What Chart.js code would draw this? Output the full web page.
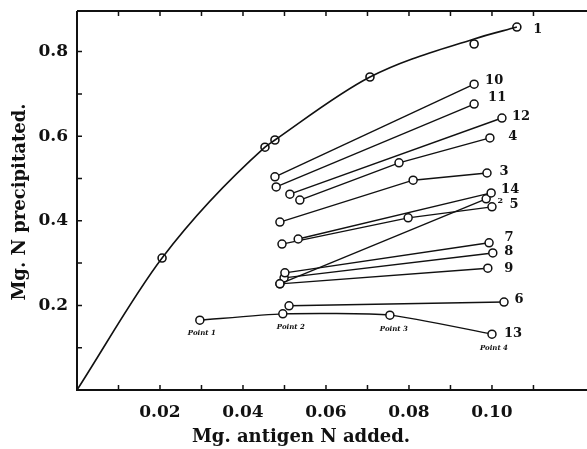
<!DOCTYPE html>
<html>
<head>
<meta charset="utf-8">
<script src="https://cdn.jsdelivr.net/npm/chart.js@4/dist/chart.umd.min.js"></script>
<style>
  body { margin: 0; background: #fff; }
</style>
</head>
<body>
<canvas id="chart" width="587" height="449"></canvas>
<script>
const curveX = [0, 0.0205, 0.0453, 0.0477, 0.0706, 0.0957, 0.1060];
const curveY = [0, 0.312, 0.574, 0.591, 0.740, 0.830, 0.858];
const mainX = [0.0205, 0.0453, 0.0477, 0.0706, 0.0957, 0.1060];
const mainY = [0.312, 0.574, 0.591, 0.740, 0.818, 0.858];
const mainLabel = "1";

// numbered series
const seriesLabels = ["10", "11", "12", "4", "3", "14", "5", "2", "7", "8", "9", "6", "13"];
const seriesX = [
  [0.0477, 0.0957],
  [0.0480, 0.0957],
  [0.0513, 0.1024],
  [0.0537, 0.0776, 0.0995],
  [0.0489, 0.0810, 0.0988],
  [0.0533, 0.0998],
  [0.0494, 0.0798, 0.1000],
  [0.0489, 0.0986],
  [0.0501, 0.0993],
  [0.0499, 0.1002],
  [0.0489, 0.0990],
  [0.0511, 0.1029],
  [0.0296, 0.0496, 0.0754, 0.1000],
];
const seriesY = [
  [0.504, 0.723],
  [0.480, 0.676],
  [0.463, 0.643],
  [0.449, 0.537, 0.596],
  [0.397, 0.496, 0.513],
  [0.357, 0.466],
  [0.345, 0.407, 0.433],
  [0.251, 0.452],
  [0.277, 0.348],
  [0.265, 0.324],
  [0.251, 0.288],
  [0.199, 0.208],
  [0.165, 0.180, 0.177, 0.132],
];
const pointNames13 = ["Point 1", "Point 2", "Point 3", "Point 4"];
const xTitle = "Mg. antigen N added.";
const yTitle = "Mg. N precipitated.";

// label placement (pixels from the last point of each series)
const labelOffsets = {
  "1": [21, 3], "10": [20, -4], "11": [23, -6], "12": [19, -1], "4": [23, -1],
  "3": [17, -1], "14": [19, -3], "5": [22, -2], "2": [14, 2], "7": [20, -5],
  "8": [16, -1], "9": [21, 0], "6": [15, -2], "13": [21, -1],
};
const pointNameOffsets = [[2, 13], [8, 13], [4, 14], [2, 14]];

const serif = "'DejaVu Serif', 'Liberation Serif', serif";
const ink = "#111";

const toPts = (xs, ys) => xs.map((v, i) => ({ x: v, y: ys[i] }));

const datasets = [
  {
    data: toPts(curveX, curveY),
    showLine: true,
    cubicInterpolationMode: "monotone",
    borderColor: ink,
    borderWidth: 1.6,
    pointRadius: 0,
  },
  {
    data: toPts(mainX, mainY),
    showLine: false,
    pointRadius: 4,
    pointBorderWidth: 1.6,
    pointBorderColor: ink,
    pointBackgroundColor: "#fff",
    seriesName: mainLabel,
  },
];
seriesLabels.forEach((name, i) => {
  datasets.push({
    data: toPts(seriesX[i], seriesY[i]),
    showLine: true,
    tension: name === "13" ? 0.2 : 0,
    borderColor: ink,
    borderWidth: 1.4,
    pointRadius: 4,
    pointBorderWidth: 1.5,
    pointBorderColor: ink,
    pointBackgroundColor: "#fff",
    seriesName: name,
  });
});

const frame = {
  id: "frame",
  afterDatasetsDraw(chart) {
    const { ctx, chartArea: a, scales: { x, y } } = chart;
    ctx.save();
    ctx.strokeStyle = ink;
    ctx.lineWidth = 2;
    ctx.beginPath();
    ctx.moveTo(a.left, a.top);
    ctx.lineTo(a.right, a.top);
    ctx.moveTo(a.left, a.top);
    ctx.lineTo(a.left, a.bottom);
    ctx.lineTo(a.right, a.bottom);
    ctx.stroke();

    ctx.lineWidth = 1.5;
    ctx.beginPath();
    x.ticks.forEach((t) => {
      const k = Math.round(t.value * 100);
      if (k <= 0 || Math.abs(t.value * 100 - k) > 1e-6) return;
      const px = x.getPixelForValue(t.value);
      ctx.moveTo(px, a.bottom);
      ctx.lineTo(px, a.bottom - 5);
      ctx.moveTo(px, a.top);
      ctx.lineTo(px, a.top + 5);
    });
    y.ticks.forEach((t) => {
      const k = Math.round(t.value * 10);
      if (k <= 0 || Math.abs(t.value * 10 - k) > 1e-6) return;
      const py = y.getPixelForValue(t.value);
      ctx.moveTo(a.left, py);
      ctx.lineTo(a.left + 5, py);
    });
    ctx.stroke();

    // axis titles
    ctx.fillStyle = ink;
    ctx.textAlign = "center";
    ctx.textBaseline = "middle";
    ctx.font = "bold 18px " + serif;
    ctx.fillText(xTitle, 301, 437);
    ctx.save();
    ctx.translate(20, 202);
    ctx.rotate(-Math.PI / 2);
    ctx.fillText(yTitle, 0, 0);
    ctx.restore();

    // series numbers
    chart.data.datasets.forEach((ds, i) => {
      if (!ds.seriesName) return;
      const meta = chart.getDatasetMeta(i);
      const last = meta.data[meta.data.length - 1];
      const off = labelOffsets[ds.seriesName];
      ctx.font = ds.seriesName === "2" ? "bold 8px " + serif : "bold 13px " + serif;
      ctx.fillText(ds.seriesName, last.x + off[0], last.y + off[1]);
      if (ds.seriesName === "13") {
        ctx.font = "italic bold 7px " + serif;
        meta.data.forEach((p, j) => {
          const o = pointNameOffsets[j];
          ctx.fillText(pointNames13[j], p.x + o[0], p.y + o[1]);
        });
      }
    });
    ctx.restore();
  },
};

new Chart(document.getElementById("chart"), {
  type: "scatter",
  data: { datasets },
  options: {
    responsive: false,
    animation: false,
    layout: { autoPadding: false, padding: { top: 11, right: 0, left: 0, bottom: 0 } },
    plugins: { legend: { display: false }, tooltip: { enabled: false } },
    scales: {
      x: {
        type: "linear",
        min: 0,
        max: 0.1229,
        grid: { display: false, tickLength: 0 },
        border: { display: false },
        afterFit: (s) => {
          s.height = 59;
          s.paddingLeft = 0;
          s.paddingRight = 0;
        },
        ticks: {
          stepSize: 0.01,
          padding: 12,
          minRotation: 0,
          maxRotation: 0,
          autoSkip: false,
          color: ink,
          font: { family: serif, size: 17, weight: "bold" },
          callback: (v) => {
            const k = Math.round(v * 100);
            return k > 0 && k % 2 === 0 && Math.abs(v * 100 - k) < 1e-6 ? (k / 100).toFixed(2) : "";
          },
        },
      },
      y: {
        type: "linear",
        min: 0,
        max: 0.896,
        grid: { display: false, tickLength: 0 },
        border: { display: false },
        afterFit: (s) => {
          s.width = 77;
          s.paddingTop = 0;
          s.paddingBottom = 0;
        },
        ticks: {
          stepSize: 0.1,
          padding: 9,
          autoSkip: false,
          color: ink,
          font: { family: serif, size: 17, weight: "bold" },
          callback: (v) => {
            const k = Math.round(v * 10);
            return k > 0 && k % 2 === 0 && Math.abs(v * 10 - k) < 1e-6 ? (k / 10).toFixed(1) : "";
          },
        },
      },
    },
  },
  plugins: [frame],
});
</script>
</body>
</html>
